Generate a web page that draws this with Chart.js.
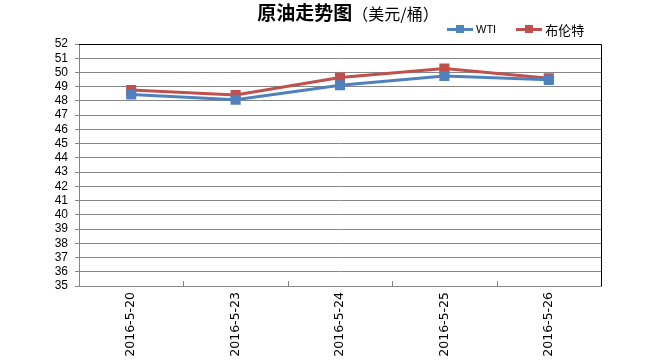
<!DOCTYPE html>
<html><head><meta charset="utf-8">
<script src="https://cdn.jsdelivr.net/npm/chart.js@4"></script>
<style>
html,body{margin:0;padding:0;background:#fff;}
#wrap{position:relative;width:658px;height:360px;}
#title{position:absolute;top:-2px;left:0;width:696px;text-align:center;font-family:"Noto Sans CJK SC",sans-serif;color:#000;white-space:nowrap;}
#title b{font-size:19px;font-weight:bold;}
#title span{font-size:16px;}
#legend{position:absolute;top:19px;left:447px;font-family:"Liberation Sans",Arial,sans-serif;white-space:nowrap;}
.li{display:inline-flex;align-items:center;margin-right:8px;}
.sw{position:relative;width:26px;height:8px;margin-right:3px;}
.sw i{position:absolute;left:0;top:3px;width:26px;height:3px;}
.sw u{position:absolute;left:9px;top:0;width:8px;height:8px;}
</style></head>
<body>
<div id="wrap">
<canvas id="c" width="658" height="360"></canvas>
<div id="title"><b>原油走势图</b><span>（美元/桶）</span></div>
<div id="legend"></div>
</div>
<script>
const categories = ['2016-5-20','2016-5-23','2016-5-24','2016-5-25','2016-5-26'];
const seriesNames = ['WTI','布伦特'];
const wti = [48.45, 48.08, 49.10, 49.75, 49.48];
const brent = [48.76, 48.42, 49.65, 50.27, 49.60];
const yMin = 35, yMax = 52, yStep = 1;
const colors = ['#4F81BD','#C0504D'];

const lg = document.getElementById('legend');
seriesNames.forEach((n,i)=>{
  const d=document.createElement('span');d.className='li';
  d.innerHTML='<span class="sw"><i style="background:'+colors[i]+'"></i><u style="background:'+colors[i]+'"></u></span><span style="font-size:'+(i===0?11:13)+'px;font-family:'+(i===0?'Liberation Sans,Arial':'Noto Sans CJK SC')+'">'+n+'</span>';
  if(i===0) d.style.marginRight='20px';
  lg.appendChild(d);
});

const borderPlugin = {
  id:'borders',
  beforeDatasetsDraw(chart){
    const {ctx, chartArea:a, scales:{x}} = chart;
    ctx.save();
    ctx.strokeStyle='#868686'; ctx.lineWidth=1;
    for(let i=0;i<categories.length;i++){
      const p = i<categories.length-1 ? (x.getPixelForValue(i)+x.getPixelForValue(i+1))/2 : a.right;
      const px=Math.round(p)+0.5;
      ctx.beginPath(); ctx.moveTo(px,a.bottom); ctx.lineTo(px,a.bottom-5); ctx.stroke();
    }
    ctx.strokeStyle='#000';
    ctx.beginPath();
    ctx.moveTo(a.left, Math.round(a.top)+0.5);
    ctx.lineTo(Math.round(a.right)+0.5, Math.round(a.top)+0.5);
    ctx.lineTo(Math.round(a.right)+0.5, a.bottom);
    ctx.stroke();
    ctx.restore();
  }
};

new Chart(document.getElementById('c'), {
  type:'line',
  data:{
    labels:categories,
    datasets:[
      {label:seriesNames[0], data:wti, borderColor:colors[0], backgroundColor:colors[0], borderWidth:3, pointStyle:'rect', pointRadius:5, pointHoverRadius:5, tension:0},
      {label:seriesNames[1], data:brent, borderColor:colors[1], backgroundColor:colors[1], borderWidth:3, pointStyle:'rect', pointRadius:5, pointHoverRadius:5, tension:0}
    ]
  },
  options:{
    responsive:false, animation:false,
    layout:{padding:{top:44,right:57,left:0,bottom:0}},
    plugins:{legend:{display:false}, title:{display:false}, tooltip:{enabled:false}},
    scales:{
      x:{
        offset:true,
        grid:{display:true, drawOnChartArea:false, drawTicks:false, color:'#868686'},
        border:{color:'#868686'},
        ticks:{minRotation:90, maxRotation:90, padding:6, autoSkip:false, color:'#000', font:{family:'DejaVu Sans', size:12.5}},
        afterFit(s){ s.height = 74; }
      },
      y:{
        min:yMin, max:yMax,
        grid:{color:'#868686', tickLength:4, drawTicks:true},
        border:{color:'#868686'},
        ticks:{stepSize:yStep, autoSkip:false, padding:7, color:'#000', font:{family:'Liberation Sans, Arial', size:12}},
        afterFit(s){ s.width = 79; }
      }
    }
  },
  plugins:[borderPlugin]
});
</script>
</body></html>
